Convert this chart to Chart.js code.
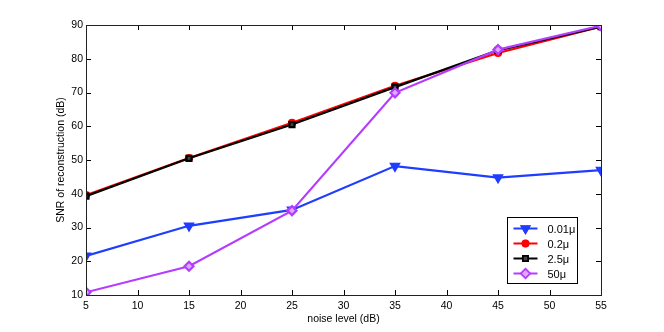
<!DOCTYPE html>
<html>
<head>
<meta charset="utf-8">
<script src="https://cdn.jsdelivr.net/npm/chart.js@4.4.0/dist/chart.umd.min.js"></script>
<style>
  html, body { margin: 0; padding: 0; background: #fff; }
  #wrap { width: 664px; height: 332px; }
</style>
</head>
<body>
<div id="wrap"><canvas id="snr"></canvas></div>
<script>
const noiseLevels = [5, 15, 25, 35, 45, 55];
const seriesNames = ['0.01\u03bc', '0.2\u03bc', '2.5\u03bc', '50\u03bc'];
const snr001 = [21.6, 30.5, 35.2, 48.2, 44.8, 47.0];
const snr02  = [39.6, 50.6, 61.0, 72.0, 81.7, 89.5];
const snr25  = [39.3, 50.5, 60.5, 71.6, 82.5, 89.5];
const snr50  = [10.8, 18.5, 35.0, 69.9, 82.7, 89.8];

const xTicks = [5, 10, 15, 20, 25, 30, 35, 40, 45, 50, 55];
const yTicks = [10, 20, 30, 40, 50, 60, 70, 80, 90];

const FONT = 'Liberation Sans, Arial, Helvetica, sans-serif';

function pts(vals) {
  return noiseLevels.map((x, i) => ({ x: x, y: vals[i] }));
}

const ctx = document.getElementById('snr').getContext('2d');

// box round the plot, inward tick marks, legend inside the axes
const matlabAxes = {
  id: 'matlabAxes',
  afterDatasetsDraw(chart) {
    const c = chart.ctx;
    const a = chart.chartArea;
    const xs = chart.scales.x, ys = chart.scales.y;
    c.save();
    c.strokeStyle = '#000';
    c.lineWidth = 1;
    c.beginPath();
    xTicks.forEach(t => {
      const px = Math.round(xs.getPixelForValue(t)) + 0.5;
      c.moveTo(px, a.bottom); c.lineTo(px, a.bottom - 5);
      c.moveTo(px, a.top); c.lineTo(px, a.top + 5);
    });
    yTicks.forEach(t => {
      const py = Math.round(ys.getPixelForValue(t)) + 0.5;
      c.moveTo(a.left, py); c.lineTo(a.left + 5, py);
      c.moveTo(a.right, py); c.lineTo(a.right - 5, py);
    });
    c.stroke();
    c.strokeStyle = '#222';
    c.strokeRect(Math.round(a.left) + 0.5, Math.round(a.top) + 0.5,
      Math.round(a.right - a.left), Math.round(a.bottom - a.top));

    // legend
    const bx = 507.5, by = 217.5, bw = 70, bh = 66;
    c.fillStyle = '#fff';
    c.fillRect(bx, by, bw, bh);
    c.strokeStyle = '#000';
    c.strokeRect(bx, by, bw, bh);
    c.font = '11px ' + FONT;
    c.textBaseline = 'middle';
    chart.data.datasets.forEach((ds, i) => {
      const y = by + 11 + i * 15;
      c.strokeStyle = ds.borderColor;
      c.lineWidth = 2;
      c.beginPath();
      c.moveTo(bx + 6, y); c.lineTo(bx + 30, y);
      c.stroke();
      Chart.helpers.drawPoint(c, {
        pointStyle: ds.pointStyle,
        rotation: ds.pointRotation || 0,
        radius: ds.pointRadius,
        borderWidth: 1.5
      }, bx + 18, y);
      c.fillStyle = ds.pointBackgroundColor;
      c.strokeStyle = ds.pointBorderColor;
      c.lineWidth = 1.5;
      c.fill();
      c.stroke();
      c.fillStyle = '#000';
      c.fillText(seriesNames[i], bx + 40, y + 1);
    });
    c.restore();
  }
};

new Chart(ctx, {
  type: 'line',
  data: {
    datasets: [
      {
        label: seriesNames[0], data: pts(snr001), order: 4,
        borderColor: '#1f3dff', borderWidth: 2.2,
        pointStyle: 'triangle', pointRotation: 180, pointRadius: 4.5,
        pointBackgroundColor: '#1f3dff', pointBorderColor: '#1f3dff'
      },
      {
        label: seriesNames[1], data: pts(snr02), order: 3,
        borderColor: '#ff0000', borderWidth: 2.2,
        pointStyle: 'circle', pointRadius: 3,
        pointBackgroundColor: '#ff0000', pointBorderColor: '#ff0000'
      },
      {
        label: seriesNames[2], data: pts(snr25), order: 2,
        borderColor: '#000000', borderWidth: 2.2,
        pointStyle: 'rect', pointRadius: 3.5,
        pointBackgroundColor: '#444444', pointBorderColor: '#000000'
      },
      {
        label: seriesNames[3], data: pts(snr50), order: 1,
        borderColor: '#b43cff', borderWidth: 2.2,
        pointStyle: 'rectRot', pointRadius: 4.5,
        pointBackgroundColor: '#dcaaff', pointBorderColor: '#b43cff'
      }
    ]
  },
  options: {
    responsive: true,
    maintainAspectRatio: false,
    animation: false,
    events: [],
    layout: { padding: { top: 25, right: 63, left: 0, bottom: 0 } },
    elements: {
      line: { tension: 0 },
      point: { borderWidth: 1.5 }
    },
    plugins: {
      legend: { display: false },
      tooltip: { enabled: false }
    },
    scales: {
      x: {
        type: 'linear', min: 5, max: 55,
        afterFit: s => { s.height = 37; },
        afterBuildTicks: s => { s.ticks = xTicks.map(v => ({ value: v })); },
        grid: { display: false, drawTicks: false },
        border: { display: false },
        ticks: { color: '#000', padding: 5, maxRotation: 0, autoSkip: false, font: { family: FONT, size: 10.5 } },
        title: { display: true, text: 'noise level (dB)', color: '#000', padding: { top: 0, bottom: 7 }, font: { family: FONT, size: 10.5 } }
      },
      y: {
        min: 10, max: 90,
        afterFit: s => { s.width = 86; },
        afterBuildTicks: s => { s.ticks = yTicks.map(v => ({ value: v })); },
        grid: { display: false, drawTicks: false },
        border: { display: false },
        ticks: { color: '#000', padding: 3, autoSkip: false, font: { family: FONT, size: 10.5 } },
        title: { display: true, text: 'SNR of reconstruction (dB)', color: '#000', padding: { top: 55, bottom: 0 }, font: { family: FONT, size: 10.5 } }
      }
    }
  },
  plugins: [matlabAxes]
});
</script>
</body>
</html>
